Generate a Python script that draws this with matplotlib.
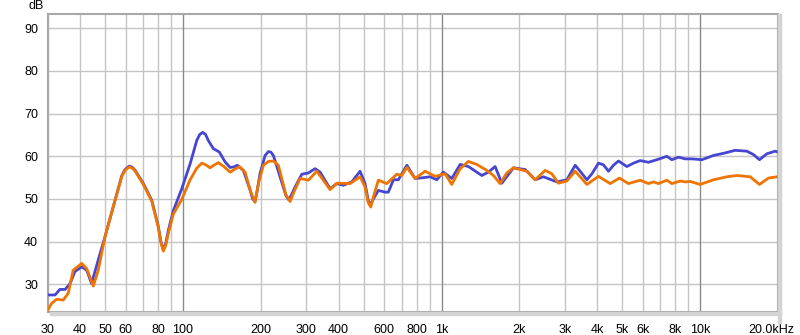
import matplotlib
matplotlib.use("Agg")

import matplotlib.pyplot as plt
import matplotlib.transforms as mtransforms

# blue trace (Hz, dB)
blue_f = [30, 32.0, 33.4, 35.0, 36.6, 38.2, 40.6, 42.4, 44.3, 47.0, 49.9, 54.6, 58.0, 59.7, 61.9,
          63.8, 65.3, 70.3, 75.7, 80.3, 82.0, 83.9, 85.8, 87.8, 91.8, 98.9, 106.5, 113.0, 116.0,
          119.2, 122.3, 125.3, 131.0, 138.2, 145.4, 152.0, 157.0, 162.3, 171.2, 181.7, 186.0,
          189.9, 193.0, 198.6, 207.7, 213.9, 218.5, 223.6, 237.3, 250.0, 255.5, 261.0, 271.3,
          288.0, 305.4, 324.2, 338.9, 370.6, 393.3, 417.1, 449.5, 483.9, 506.0,
          520.0, 529.0, 540.0, 569.5, 604.5, 622.6, 651.1, 680.7, 733.8, 789.9, 850.6, 902.8,
          958.3, 1016, 1095, 1180, 1270, 1431, 1518, 1611, 1710, 1897, 2105, 2301, 2477, 2792,
          3051, 3286, 3435, 3647, 3813, 4044, 4227, 4420, 4620, 4831, 5207, 5523, 5861, 6311,
          6802, 7434, 7772, 8245, 8752, 9290, 10155, 11261, 12312, 13659, 15163, 16078, 16960,
          18124, 19509, 20000]
blue_db = [27.5, 27.5, 28.8, 28.8, 30.2, 33.0, 34.1, 33.3, 30.2, 35.7, 41.1, 49.7, 55.5, 56.9, 57.7,
           57.4, 56.7, 53.6, 49.7, 43.5, 40.2, 38.0, 39.6, 42.7, 47.3, 52.4, 58.2, 63.7, 65.1,
           65.6, 65.1, 63.7, 61.8, 61.0, 58.7, 57.4, 57.5, 57.9, 56.7, 52.1, 50.0,
           49.4, 51.5, 56.0, 60.2, 61.1, 61.0, 60.2, 55.2, 50.8, 49.9, 50.6, 52.8,
           55.8, 56.1, 57.1, 56.3, 52.4, 53.6, 53.2, 54.0, 56.5, 53.6,
           49.8, 48.5, 49.6, 52.0, 51.6, 51.6, 54.5, 54.5, 57.9, 54.8, 55.0, 55.2,
           54.5, 56.3, 54.8, 58.1, 57.6, 55.5, 56.3, 57.6, 53.7, 57.3, 56.9, 54.5, 55.2, 54.0,
           54.5, 57.9, 56.5, 54.5, 55.9, 58.4, 58.0, 56.5, 57.9, 58.9, 57.6, 58.4, 59.0, 58.6,
           59.2, 60.0, 59.2, 59.8, 59.4, 59.4, 59.2, 60.2, 60.7, 61.4, 61.2, 60.4, 59.2,
           60.6, 61.2, 61.0]

# orange trace (Hz, dB)
orange_f = [30, 31.1, 32.5, 34.4, 36.0, 37.6, 40.6, 42.4, 45.0, 47.0, 49.9, 54.6, 58.0, 59.7,
            61.9, 63.8, 65.3, 70.3, 75.7, 80.3, 82.0, 83.9, 85.8, 87.8, 91.8, 98.9, 106.5,
            113.0, 118.2, 122.5, 127.2, 131.5, 137.0, 144.0, 152.0, 165.2, 173.8, 182.0, 189.9,
            196.0, 204.6, 214.0, 223.6, 233.8, 250.0, 259.5, 268.0, 283.6, 305.4, 329.1, 370.6,
            393.3, 442.7, 483.9, 506.0, 520.0, 532.3, 545.0, 569.5, 613.9, 671.1, 701.6, 733.8,
            789.9, 863.7, 944.1, 1032, 1095, 1180, 1270, 1368, 1496, 1587, 1684, 1788, 1897,
            2137, 2301, 2515, 2670, 2831, 3051, 3286, 3435, 3647, 4044, 4487, 4874, 5281, 5861,
            6311, 6599, 6900, 7434, 7772, 8371, 8752, 9150, 10000, 11261, 12689, 13870,
            15610, 16960, 18380, 19810, 20000]
orange_db = [24.0, 25.6, 26.5, 26.3, 27.9, 33.3, 34.9, 33.7, 29.6, 33.3, 41.1, 49.7, 55.3, 56.7,
             57.5, 57.2, 56.5, 53.4, 49.5, 43.3, 40.0, 37.8, 39.2, 42.0, 46.5, 49.9, 54.5,
             57.2, 58.4, 58.0, 57.3, 57.9, 58.5, 57.6, 56.3, 57.6, 56.3, 52.0, 49.2,
             53.8, 57.9, 58.8, 58.9, 57.9, 51.0, 49.4, 51.5, 54.8, 54.4, 56.5, 52.2,
             53.7, 53.6, 55.2, 52.8, 49.2, 48.1, 50.5, 54.4, 53.6, 55.8, 55.5, 57.4,
             54.8, 56.5, 55.3, 55.9, 53.4, 57.1, 58.8, 58.1, 56.7, 55.5, 53.6, 56.1, 57.3,
             56.5, 54.5, 56.7, 55.9, 53.7, 54.2, 56.5, 55.2, 53.4, 55.3, 53.6, 54.9, 53.6, 54.4,
             53.6, 54.0, 53.6, 54.4, 53.6, 54.2, 54.0, 54.1, 53.4, 54.5, 55.2, 55.5,
             55.2, 53.4, 54.9, 55.2, 55.2]

x_ticks = [30, 40, 50, 60, 80, 100, 200, 300, 400, 600, 800, 1000, 2000, 3000, 4000,
           5000, 6000, 8000, 10000, 20000]
x_labels = ["30", "40", "50", "60", "80", "100", "200", "300", "400", "600", "800", "1k",
            "2k", "3k", "4k", "5k", "6k", "8k", "10k", "20.0kHz"]
y_ticks = [30, 40, 50, 60, 70, 80, 90]

plt.rcParams["font.family"] = ["Liberation Sans", "DejaVu Sans"]

fig = plt.figure(figsize=(8, 3.35), dpi=100)
ax = fig.add_axes([47.8 / 800, 23.3 / 335, 730.2 / 800, 297.7 / 335])
ax.set_xscale("log")
ax.set_xlim(30, 20000)
ax.set_ylim(23.58, 93.35)

# grid: every 10 dB, every 1-2-3.. per decade, decades darker
for y in y_ticks:
    ax.axhline(y, color="#c4c4c4", lw=1, zorder=1)
grid_f = [30, 40, 50, 60, 70, 80, 90]
grid_f += [m * 100 for m in range(2, 10)] + [m * 1000 for m in range(2, 10)]
for f in grid_f:
    ax.axvline(f, color="#c4c4c4", lw=1, zorder=1)
for f in [100, 1000, 10000]:
    ax.axvline(f, color="#8a8a8a", lw=1, zorder=1)

ax.plot(blue_f, blue_db, color="#4646d2", lw=2.0, solid_joinstyle="round", zorder=3)
ax.plot(orange_f, orange_db, color="#f07400", lw=2.0, solid_joinstyle="round", zorder=4)

ax.set_xticks(x_ticks)
ax.set_xticklabels(x_labels)
ax.set_yticks(y_ticks)
ax.minorticks_off()
ax.tick_params(length=0, labelsize=9, colors="black", pad=9)
ax.tick_params(axis="y", pad=7)
last = ax.get_xticklabels()[-1]
last.set_transform(last.get_transform() +
                   mtransforms.ScaledTranslation(-7 / 100, 0, fig.dpi_scale_trans))

for s in ax.spines.values():
    s.set_color("#a8a8a8")
    s.set_linewidth(1.5)

# shadow on right and bottom edges
fig.patches.append(plt.Rectangle((778 / 800, 12 / 335), 3 / 800, 309 / 335,
                                 transform=fig.transFigure, color="#d4d4d4", zorder=0))
fig.patches.append(plt.Rectangle((50 / 800, 20.5 / 335), 731 / 800, 3 / 335,
                                 transform=fig.transFigure, color="#d4d4d4", zorder=0))

fig.text(29 / 800, 1 - 6 / 335, "dB", fontsize=9, va="center", ha="left")

fig.savefig("out.png", dpi=100)
